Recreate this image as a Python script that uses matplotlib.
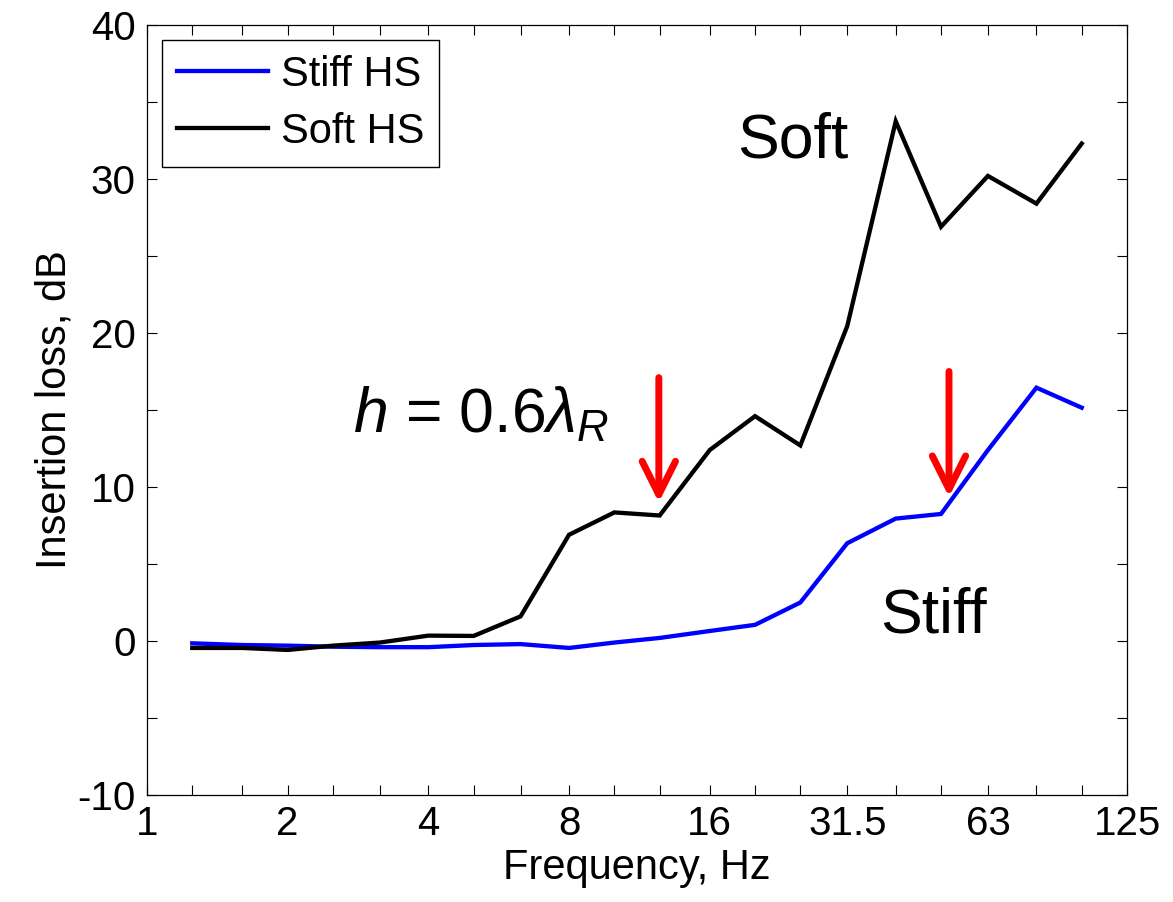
import matplotlib
matplotlib.use('Agg')
import matplotlib.pyplot as plt
from matplotlib.patches import ArrowStyle
from matplotlib.ticker import FixedLocator, NullLocator

# ---- data ----
freq_hz = [1.25, 1.6, 2, 2.5, 3.15, 4, 5, 6.3, 8, 10, 12.5, 16, 20, 25,
           31.5, 40, 50, 63, 80, 100]
stiff_hs = [-0.15, -0.26, -0.3, -0.37, -0.4, -0.4, -0.26, -0.2, -0.45, -0.1,
            0.2, 0.65, 1.05, 2.5, 6.35, 7.95, 8.25, 12.4, 16.45, 15.15]
soft_hs = [-0.45, -0.45, -0.58, -0.3, -0.1, 0.35, 0.33, 1.6, 6.9, 8.35,
           8.15, 12.4, 14.6, 12.7, 20.45, 33.75, 26.9, 30.2, 28.4, 32.3]
tick_freqs = [1, 1.25, 1.6, 2, 2.5, 3.15, 4, 5, 6.3, 8, 10, 12.5, 16, 20, 25,
              31.5, 40, 50, 63, 80, 100, 125]
tick_labels = ['1', '', '', '2', '', '', '4', '', '', '8', '', '', '16', '',
               '', '31.5', '', '', '63', '', '', '125']
series_labels = ['Stiff HS', 'Soft HS']
arrow_freqs = [12.45, 52.0]
arrow_tops = [17.1, 17.5]
arrow_tips = [9.0, 9.35]

plt.rcParams['font.family'] = ['Liberation Sans', 'DejaVu Sans']
plt.rcParams['axes.unicode_minus'] = False
plt.rcParams['mathtext.fontset'] = 'custom'
plt.rcParams['mathtext.rm'] = 'Liberation Sans'
plt.rcParams['mathtext.it'] = 'Liberation Sans:italic'
plt.rcParams['mathtext.bf'] = 'Liberation Sans:bold'

fig = plt.figure(figsize=(11.73, 9.02), dpi=100)
ax = fig.add_axes([0.1253, 0.1186, 0.9608 - 0.1253, 0.9723 - 0.1186])

ax.plot(freq_hz, stiff_hs, color='#0000ff', lw=3.1, label=series_labels[0],
        solid_joinstyle='miter')
ax.plot(freq_hz, soft_hs, color='black', lw=3.1, label=series_labels[1],
        solid_joinstyle='miter')

ax.set_xscale('log', base=2)
ax.set_xlim(1, 125)
ax.set_ylim(-10, 40)
ax.xaxis.set_major_locator(FixedLocator(tick_freqs))
ax.set_xticklabels(tick_labels)
ax.xaxis.set_minor_locator(NullLocator())
ax.set_yticks(range(-10, 41, 10))
ax.yaxis.set_minor_locator(FixedLocator(range(-10, 41, 5)))

ax.tick_params(which='both', direction='in', length=7, width=0.8,
               top=True, right=True, colors='black')
ax.tick_params(axis='x', labelsize=29, pad=7)
ax.tick_params(axis='y', labelsize=29, pad=8)
for s in ax.spines.values():
    s.set_linewidth(0.9)

ax.set_xlabel('Frequency, Hz', fontsize=30, labelpad=4)
ax.set_ylabel('Insertion loss, dB', fontsize=30, labelpad=2)

leg = ax.legend(loc='upper left', fontsize=30, frameon=True, fancybox=False,
                edgecolor='black', framealpha=1, handlelength=2.2,
                handletextpad=0.3, borderaxespad=0.36, borderpad=0.35,
                labelspacing=0.42)
leg.get_frame().set_linewidth(1.0)

ax.text(18.3, 31.4, 'Soft', fontsize=45, ha='left', va='baseline')
ax.text(37.0, 0.55, 'Stiff', fontsize=45, ha='left', va='baseline')
ax.text(2.76, 13.57, r'$h$ = 0.6$\lambda_R$', fontsize=45, ha='left',
        va='baseline')

for xf, top, tip in zip(arrow_freqs, arrow_tops, arrow_tips):
    ax.annotate('', xy=(xf, tip), xytext=(xf, top),
                arrowprops=dict(arrowstyle=ArrowStyle('->', head_length=24,
                                                      head_width=12),
                                mutation_scale=1, color='#ff0000', lw=5,
                                shrinkA=0, shrinkB=0, capstyle='round',
                                joinstyle='round'))

fig.savefig('out.png', dpi=100)
